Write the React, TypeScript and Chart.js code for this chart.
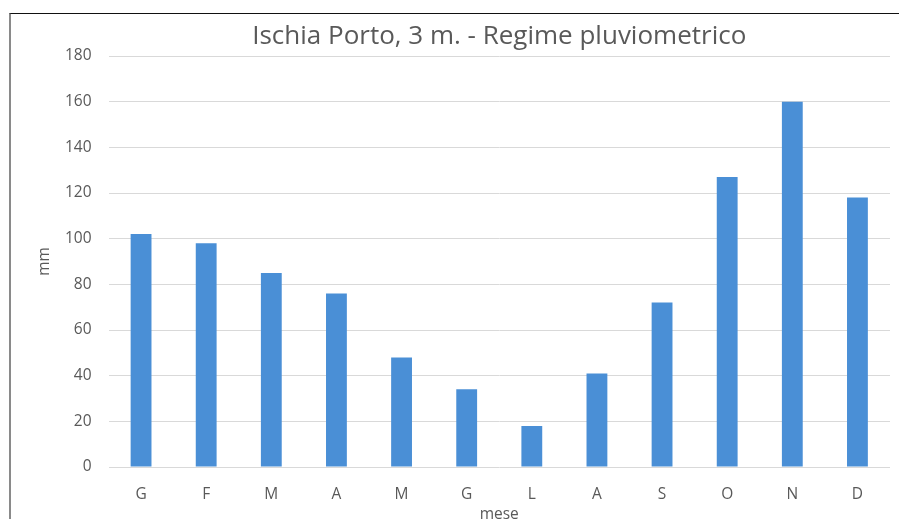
import React, { useEffect, useRef } from "react";
import { Chart, registerables } from "chart.js";

Chart.register(...registerables);

const TITLE = "Ischia Porto, 3 m. - Regime pluviometrico";
const months = ["G", "F", "M", "A", "M", "G", "L", "A", "S", "O", "N", "D"];
const rainMm = [102, 98, 85, 76, 48, 34, 18, 41, 72, 127, 160, 118];
const yTicks = [0, 20, 40, 60, 80, 100, 120, 140, 160, 180];
const X_TITLE = "mese";
const Y_TITLE = "mm";

const FONT = "'Open Sans', 'DejaVu Sans', sans-serif";
const TEXT = "#595959";

export default function App() {
  const ref = useRef<HTMLCanvasElement | null>(null);

  useEffect(() => {
    if (!ref.current) return;
    const chart = new Chart(ref.current, {
      type: "bar",
      data: {
        labels: months,
        datasets: [
          {
            data: rainMm,
            backgroundColor: "#4a8fd6",
            borderWidth: 0,
            categoryPercentage: 1,
            barPercentage: 0.32,
          },
        ],
      },
      options: {
        responsive: false,
        animation: false,
        devicePixelRatio: 1,
        layout: { padding: { left: 10, right: 9, top: 0, bottom: 0 } },
        plugins: {
          legend: { display: false },
          tooltip: { enabled: false },
          title: {
            display: true,
            text: TITLE,
            fullSize: false,
            color: TEXT,
            font: { family: FONT, size: 26, weight: "normal" },
            padding: { top: 6.5, bottom: 4.3 },
          },
        },
        scales: {
          x: {
            grid: { display: false, drawTicks: false },
            border: { display: false },
            ticks: {
              color: TEXT,
              font: { family: FONT, size: 15.5 },
              padding: 18,
              maxRotation: 0,
            },
            title: {
              display: true,
              text: X_TITLE,
              color: TEXT,
              font: { family: FONT, size: 15.5 },
              padding: { top: 0, bottom: 20 },
            },
            afterFit: (s: any) => {
              s.height = 77;
            },
          },
          y: {
            min: 0,
            max: 180,
            afterBuildTicks: (s: any) => {
              s.ticks = yTicks.map((v) => ({ value: v }));
            },
            grid: { color: "#d9d9d9", lineWidth: 1, drawTicks: false },
            border: { display: false },
            ticks: {
              color: TEXT,
              font: { family: FONT, size: 15.5 },
              padding: 17,
            },
            title: {
              display: true,
              text: Y_TITLE,
              color: TEXT,
              font: { family: FONT, size: 15.5 },
              padding: { top: 14, bottom: 0 },
            },
            afterFit: (s: any) => {
              s.width = 87.5;
            },
          },
        },
      },
    });
    return () => chart.destroy();
  }, []);

  return (
    <div
      style={{
        position: "fixed",
        left: 9,
        top: 13,
        width: 900,
        height: 540,
        borderLeft: "2px solid #8a8a8a",
        borderTop: "1px solid #111",
        background: "#fff",
      }}
    >
      <canvas
        ref={ref}
        width={888}
        height={530}
        style={{ display: "block", width: 888, height: 530 }}
      />
    </div>
  );
}
